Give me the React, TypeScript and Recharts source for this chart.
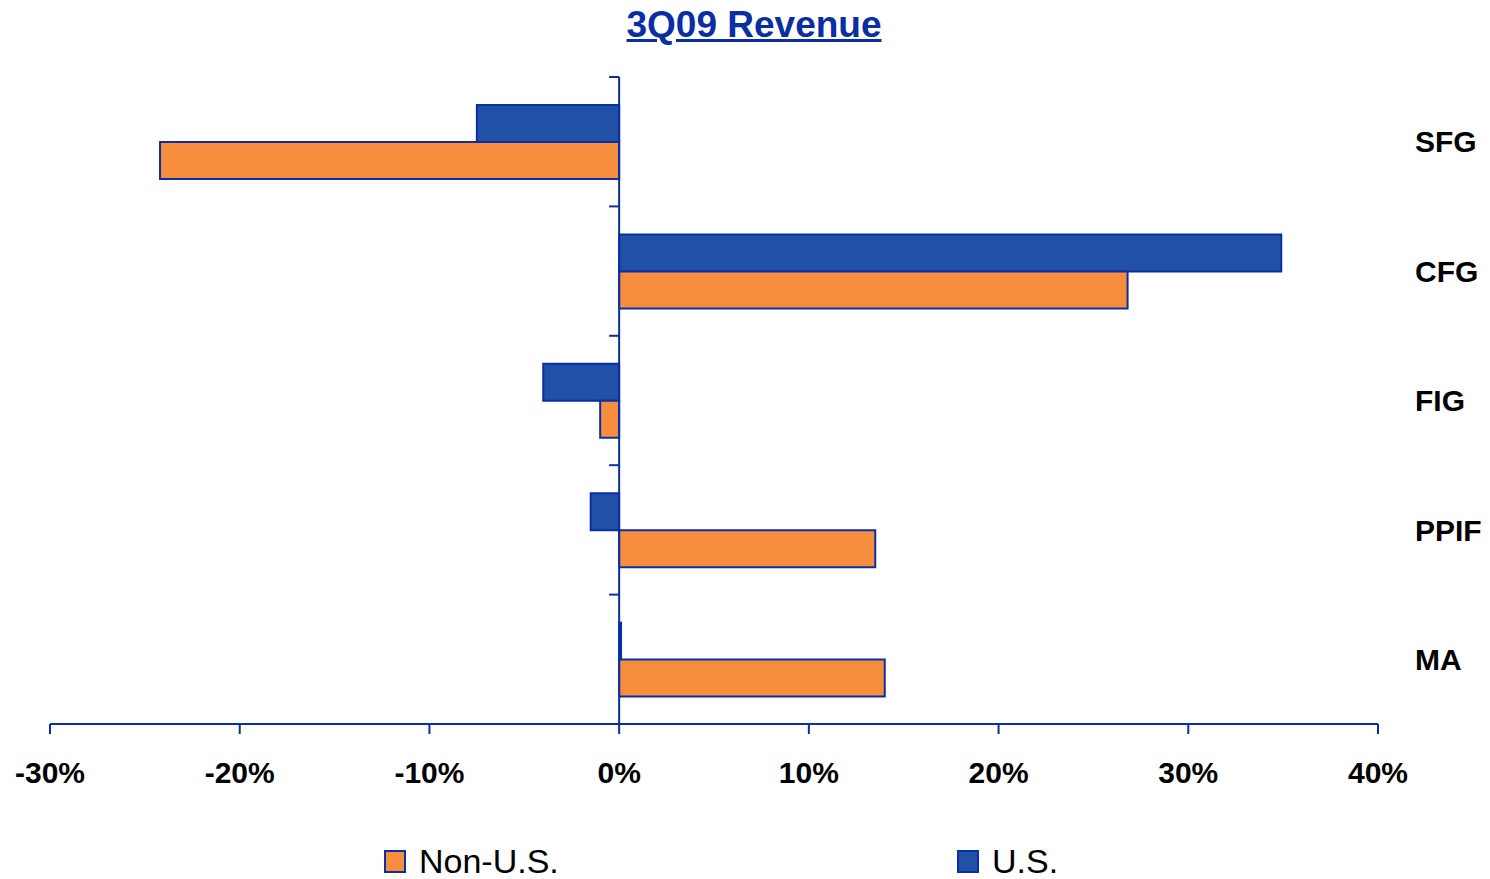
import React from "react";
import { Bar, BarChart, Legend, ReferenceLine, XAxis, YAxis } from "recharts";

const categories = ["SFG", "CFG", "FIG", "PPIF", "MA"];
const usValues = [-7.5, 34.9, -4.0, -1.5, 0.1];
const nonUsValues = [-24.2, 26.8, -1.0, 13.5, 14.0];
const xTicks = [-30, -20, -10, 0, 10, 20, 30, 40];

const data = categories.map((name, i) => ({ name, us: usValues[i], nonUs: nonUsValues[i] }));

const navy = "#0a2ea4";
const blue = "#2150a7";
const orange = "#f68e3d";
const font = "'Liberation Sans', Arial, sans-serif";

// vertical axis drawn at x = 0, with tick marks on the category boundaries
function ZeroAxis(props: any) {
  const { x1, y1, y2 } = props;
  const step = (y2 - y1) / categories.length;
  return (
    <g>
      <line x1={x1} x2={x1} y1={y1} y2={y2} stroke={navy} strokeWidth={2} />
      {Array.from({ length: categories.length + 1 }, (_, i) => (
        <line key={i} x1={x1 - 10} x2={x1} y1={y1 + i * step} y2={y1 + i * step} stroke={navy} strokeWidth={2} />
      ))}
    </g>
  );
}

const legendItems = [
  { label: "Non-U.S.", color: orange, left: 384 },
  { label: "U.S.", color: blue, left: 957 },
];

function LegendContent() {
  return (
    <div style={{ position: "relative", height: 34 }}>
      {legendItems.map((item) => (
        <div
          key={item.label}
          style={{ position: "absolute", left: item.left, top: 0, display: "flex", alignItems: "center", lineHeight: "34px" }}
        >
          <span style={{ width: 18, height: 19, background: item.color, border: `2px solid ${navy}`, display: "inline-block" }} />
          <span style={{ marginLeft: 13, fontSize: 34, color: "#000", fontFamily: font }}>{item.label}</span>
        </div>
      ))}
    </div>
  );
}

export default function App() {
  return (
    <div style={{ position: "absolute", left: 0, top: 0, width: 1490, height: 879, fontFamily: font, background: "#fff" }}>
      <div
        style={{
          position: "absolute",
          top: 6,
          left: 18,
          width: 1472,
          textAlign: "center",
          fontSize: 37,
          lineHeight: "37px",
          fontWeight: 700,
          color: navy,
          textDecoration: "underline",
        }}
      >
        3Q09 Revenue
      </div>
      <BarChart
        width={1490}
        height={879}
        data={data}
        layout="vertical"
        margin={{ top: 77, left: 50, right: 0, bottom: 95 }}
        barSize={37}
        barGap={0}
      >
        <XAxis
          type="number"
          domain={[-30, 40]}
          ticks={xTicks}
          tickFormatter={(v) => `${v}%`}
          axisLine={{ stroke: navy, strokeWidth: 2 }}
          tickLine={{ stroke: navy, strokeWidth: 2 }}
          tickSize={10}
          tickMargin={28}
          height={60}
          interval={0}
          tick={{ fill: "#000", fontSize: 30, fontWeight: 700, fontFamily: font }}
        />
        <YAxis
          type="category"
          dataKey="name"
          orientation="right"
          width={112}
          axisLine={false}
          tickLine={false}
          tickSize={0}
          tickMargin={37}
          interval={0}
          tick={{ fill: "#000", fontSize: 30, fontWeight: 700, fontFamily: font, textAnchor: "start" }}
        />
        <Legend verticalAlign="middle" align="center" wrapperStyle={{ top: 844, left: 0, width: 1490 }} content={LegendContent} />
        <Bar dataKey="us" name="U.S." fill={blue} stroke={navy} strokeWidth={2} isAnimationActive={false} />
        <Bar dataKey="nonUs" name="Non-U.S." fill={orange} stroke={navy} strokeWidth={2} isAnimationActive={false} />
        <ReferenceLine x={0} shape={ZeroAxis} />
      </BarChart>
    </div>
  );
}
